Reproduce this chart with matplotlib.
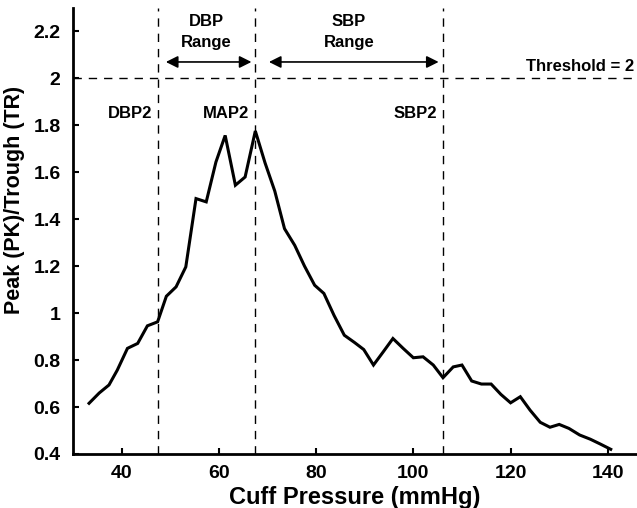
import matplotlib
matplotlib.use("Agg")
import matplotlib.pyplot as plt

plt.rcParams['font.family'] = ['Liberation Sans', 'DejaVu Sans']
plt.rcParams['font.weight'] = 'bold'

cuff_pressure = [33.3, 35.4, 37.4, 39.1, 41.2, 43.3, 45.3, 47.4, 49.2, 51.2, 53.2, 55.3,
                 57.4, 59.4, 61.3, 63.4, 65.4, 67.5, 69.5, 71.5, 73.5, 75.6, 77.6, 79.7,
                 81.6, 83.7, 85.8, 87.9, 89.8, 91.8, 93.8, 95.8, 97.9, 100.0, 102.0, 104.1,
                 106.1, 108.2, 110.0, 112.0, 114.0, 116.0, 118.0, 120.0, 122.0, 124.0,
                 126.1, 128.1, 130.0, 132.0, 134.2, 136.4, 138.4, 140.6]
tr_ratio = [0.616, 0.66, 0.694, 0.757, 0.850, 0.871, 0.946, 0.963, 1.072, 1.112, 1.197, 1.488,
            1.474, 1.644, 1.757, 1.545, 1.58, 1.776, 1.64, 1.52, 1.36, 1.289, 1.201, 1.119,
            1.084, 0.99, 0.906, 0.875, 0.845, 0.779, 0.835, 0.892, 0.85, 0.81, 0.814, 0.779,
            0.725, 0.771, 0.779, 0.711, 0.698, 0.698, 0.654, 0.618, 0.644, 0.587,
            0.535, 0.514, 0.526, 0.509, 0.481, 0.463, 0.443, 0.42]

threshold = 2
dbp2, map2, sbp2 = 47.5, 67.5, 106.0
marker_labels = ['DBP2', 'MAP2', 'SBP2']
x_ticks = [40, 60, 80, 100, 120, 140]
y_ticks = [0.4, 0.6, 0.8, 1, 1.2, 1.4, 1.6, 1.8, 2, 2.2]
y_tick_labels = ['0.4', '0.6', '0.8', '1', '1.2', '1.4', '1.6', '1.8', '2', '2.2']

fig = plt.figure(figsize=(6.37, 5.08), dpi=100)
ax = fig.add_axes([0.1146, 0.1063, 0.8854, 0.878])

ax.plot(cuff_pressure, tr_ratio, color='black', lw=2.2, solid_joinstyle='miter')

dash = (0, (6, 5))
ax.axhline(threshold, color='black', lw=1, linestyle=dash)
for xv in (dbp2, map2, sbp2):
    ax.axvline(xv, color='black', lw=1, linestyle=dash)

ax.set_xlim(30, 146)
ax.set_ylim(0.4, 2.3)
ax.set_xticks(x_ticks)
ax.set_yticks(y_ticks)
ax.set_yticklabels(y_tick_labels)

for s in ('top', 'right'):
    ax.spines[s].set_visible(False)
for s in ('left', 'bottom'):
    ax.spines[s].set_linewidth(2)
ax.tick_params(direction='in', length=4, width=1.5, labelsize=14)
ax.tick_params(axis='y', pad=9)
ax.tick_params(axis='x', pad=8)
for lab in ax.get_xticklabels() + ax.get_yticklabels():
    lab.set_fontweight('bold')

ax.set_xlabel('Cuff Pressure (mmHg)', fontsize=17, fontweight='bold', labelpad=3)
ax.set_ylabel('Peak (PK)/Trough (TR)', fontsize=15.5, fontweight='bold', labelpad=6)
ax.yaxis.set_label_coords(-0.085, 0.57)

fs = 12
ax.text((dbp2 + map2) / 2, 2.198, 'DBP\nRange', ha='center', va='center', fontsize=fs,
        fontweight='bold', linespacing=1.45)
ax.text((map2 + sbp2) / 2, 2.198, 'SBP\nRange', ha='center', va='center', fontsize=fs,
        fontweight='bold', linespacing=1.45)
arrow_y = 2.07
ax.annotate('', xy=(dbp2 + 1.6, arrow_y), xytext=(map2 - 0.8, arrow_y),
            arrowprops=dict(arrowstyle='<|-|>', color='black', lw=1.2, mutation_scale=18,
                            shrinkA=0, shrinkB=0))
ax.annotate('', xy=(map2 + 2.8, arrow_y), xytext=(sbp2 - 0.8, arrow_y),
            arrowprops=dict(arrowstyle='<|-|>', color='black', lw=1.2, mutation_scale=18,
                            shrinkA=0, shrinkB=0))
ax.text(145.5, 2.05, 'Threshold = 2', ha='right', va='center', fontsize=fs, fontweight='bold')
for xv, lab in zip((dbp2, map2, sbp2), marker_labels):
    ax.text(xv - 1.2, 1.85, lab, ha='right', va='center', fontsize=fs, fontweight='bold')

fig.savefig('out.png', dpi=100)
